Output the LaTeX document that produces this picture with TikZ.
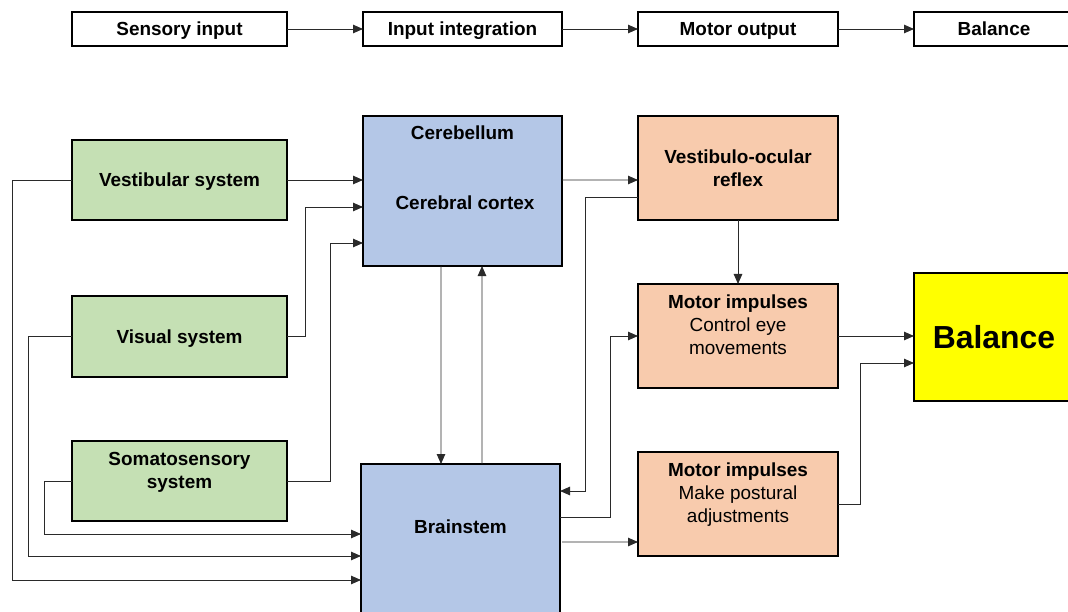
\documentclass[tikz,border=0pt]{standalone}
\usepackage{fontspec}
\setmainfont{Liberation Sans}
\usetikzlibrary{arrows.meta,calc}

\definecolor{sensegreen}{HTML}{C5E0B4}
\definecolor{brainblue}{HTML}{B4C7E7}
\definecolor{motororange}{HTML}{F8CBAD}
\definecolor{goalyellow}{HTML}{FFFF00}
\definecolor{wire}{HTML}{2A2A2A}

\tikzset{
  box/.style={draw=black, line width=1.4bp, inner sep=0pt, outer sep=0pt},
  stagebox/.style={box, fill=white, btxt},
  sensebox/.style={box, fill=sensegreen},
  brainbox/.style={box, fill=brainblue},
  motorbox/.style={box, fill=motororange},
  goalbox/.style={box, fill=goalyellow},
  txt/.style={font=\fontsize{19}{23}\selectfont, text height=13.7bp, text depth=0pt, inner sep=0pt},
  btxt/.style={txt, font=\fontsize{19}{23}\selectfont\bfseries},
  bigtxt/.style={font=\fontsize{32}{38}\selectfont\bfseries, text height=23bp, text depth=0pt},
  link/.style={draw=wire, line width=0.9bp, -{Triangle[length=10bp,width=8.5bp]}},
}

\begin{document}
\begin{tikzpicture}[x=1bp, y=-1bp]
  \clip (0,0) rectangle (1068,612);
  \fill[white] (0,0) rectangle (1068,612);

  % stage row
  \node[stagebox, minimum width=215bp, minimum height=34bp] (s1) at (179.5,29) {Sensory input};
  \node[stagebox, minimum width=199bp, minimum height=34bp] (s2) at (462.5,29) {Input integration};
  \node[stagebox, minimum width=200bp, minimum height=34bp] (s3) at (738,29) {Motor output};
  \node[stagebox, minimum width=160bp, minimum height=34bp] (s4) at (994,29) {Balance};

  % sensory systems
  \node[sensebox, btxt, minimum width=215bp, minimum height=80bp] (vest) at (179.5,180) {Vestibular system};
  \node[sensebox, btxt, minimum width=215bp, minimum height=81bp] (vis) at (179.5,336.5) {Visual system};
  \node[sensebox, minimum width=215bp, minimum height=80bp] (soma) at (179.5,481) {};
  \node[btxt] (soma1) at (179.5,459) {Somatosensory};
  \node[btxt] (soma2) at (179.5,482) {system};

  % integration centres
  \node[brainbox, minimum width=199bp, minimum height=150bp] (cereb) at (462.5,191) {};
  \node[btxt] (cereb1) at (462.5,133) {Cerebellum};
  \node[btxt] (cereb2) at (465,203) {Cerebral cortex};
  \node[brainbox, minimum width=199bp, minimum height=176bp] (brain) at (460.5,552) {};
  \node[btxt] (brain1) at (460.5,527) {Brainstem};

  % motor output
  \node[motorbox, minimum width=200bp, minimum height=104bp] (vor) at (738,168) {};
  \node[btxt] (vor1) at (738,157) {Vestibulo-ocular};
  \node[btxt] (vor2) at (738,180) {reflex};
  \node[motorbox, minimum width=200bp, minimum height=104bp] (eye) at (738,336) {};
  \node[btxt] (eye1) at (738,302) {Motor impulses};
  \node[txt] (eye2) at (738,325) {Control eye};
  \node[txt] (eye3) at (738,348) {movements};
  \node[motorbox, minimum width=200bp, minimum height=104bp] (post) at (738,504) {};
  \node[btxt] (post1) at (738,470) {Motor impulses};
  \node[txt] (post2) at (738,493) {Make postural};
  \node[txt] (post3) at (738,516) {adjustments};

  % result
  \node[goalbox, bigtxt, minimum width=160bp, minimum height=128bp] (bal) at (994,337) {Balance};

  % stage row arrows
  \draw[link] (s1.east) -- (s2.west);
  \draw[link] (s2.east) -- (s3.west);
  \draw[link] (s3.east) -- (s4.west);

  % sensory inputs to cerebellum / cortex
  \draw[link] (vest.east) -- (vest.east -| cereb.west);
  \draw[link] (vis.east) -- ++(18,0) |- ([yshift=-16bp]cereb.west);
  \draw[link] (soma.east) -- ++(43,0) |- ([yshift=-52bp]cereb.west);

  % sensory inputs to brainstem
  \draw[link] (vest.west) -- ++(-60,0) |- ([yshift=-28bp]brain.west);
  \draw[link] (vis.west) -- ++(-44,0) |- ([yshift=-4bp]brain.west);
  \draw[link] (soma.west) -- ++(-28,0) |- ([yshift=18bp]brain.west);

  % cerebellum <-> brainstem
  \draw[link] ([xshift=-21.5bp]cereb.south) -- ([xshift=-19.5bp]brain.north);
  \draw[link] ([xshift=21.5bp]brain.north) -- ([xshift=19.5bp]cereb.south);

  % integration to motor output
  \draw[link] ([yshift=11bp]cereb.east) -- ([yshift=-12bp]vor.west);
  \draw[link] ([yshift=-29bp]vor.west) -- ++(-53,0) |- ([yshift=61bp]brain.east);
  \draw[link] ([yshift=35bp]brain.east) -- ++(50,0) |- (eye.west);
  \draw[link] ([yshift=10bp,xshift=2bp]brain.east) -- ([yshift=-38bp]post.west);
  \draw[link] (vor.south) -- (eye.north);

  % motor output to balance
  \draw[link] (eye.east) -- (eye.east -| bal.west);
  \draw[link] (post.east) -- ++(22,0) |- ([yshift=-26bp]bal.west);
\end{tikzpicture}
\end{document}
